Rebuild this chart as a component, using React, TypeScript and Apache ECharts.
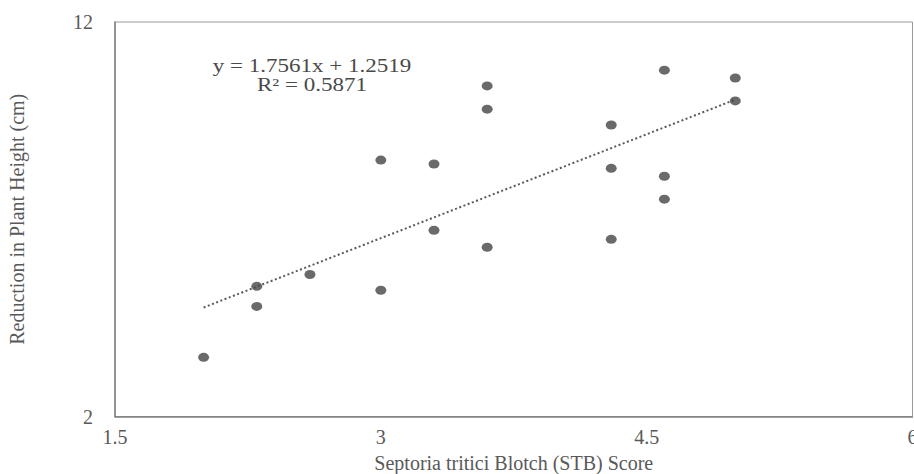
import React, { useEffect, useRef } from "react";
import * as echarts from "echarts";

const stbScore = [2.0, 2.3, 2.3, 2.6, 3.0, 3.0, 3.3, 3.3, 3.6, 3.6, 3.6, 4.3, 4.3, 4.3, 4.6, 4.6, 4.6, 5.0, 5.0];
const heightReduction = [3.5, 4.79, 5.3, 5.6, 5.2, 8.5, 6.72, 8.4, 10.38, 9.79, 6.29, 9.39, 8.29, 6.49, 10.78, 8.09, 7.51, 10.58, 10.0];
const slope = 1.7561;
const intercept = 1.2519;
const rSquared = 0.5871;
const trendRange = [2.0, 5.0];
const yTicks = [2, 12];

const FONT = "Liberation Serif";

export default function App() {
  const ref = useRef<HTMLDivElement>(null);
  useEffect(() => {
    if (!ref.current) return;
    const chart = echarts.init(ref.current, undefined, { renderer: "svg" });
    const points = stbScore.map((x, i) => [x, heightReduction[i]]);
    const trend = trendRange.map((x) => [x, slope * x + intercept]);
    chart.setOption({
      animation: false,
      backgroundColor: "#ffffff",
      grid: {
        left: 115,
        right: 1.5,
        top: 22,
        bottom: 57.5,
        outerBoundsMode: "none",
        containLabel: false,
        show: true,
        borderColor: "#9a9a9a",
        borderWidth: 1,
      },
      xAxis: {
        type: "value",
        min: 1.5,
        max: 6,
        interval: 1.5,
        name: "Septoria tritici Blotch (STB) Score",
        nameLocation: "middle",
        nameGap: 36,
        nameTextStyle: { fontFamily: FONT, fontSize: 20, color: "#595959" },
        axisLine: { show: true, onZero: false, lineStyle: { color: "#7f7f7f", width: 1.5 } },
        axisTick: { show: false },
        splitLine: { show: false },
        axisLabel: { fontFamily: FONT, fontSize: 20, color: "#595959", margin: 10 },
      },
      yAxis: {
        type: "value",
        min: 2,
        max: 12,
        name: "Reduction in Plant Height (cm)",
        nameLocation: "middle",
        nameGap: 88,
        nameTextStyle: { fontFamily: FONT, fontSize: 20, color: "#595959" },
        axisLine: { show: true, onZero: false, lineStyle: { color: "#7f7f7f", width: 1.5 } },
        axisTick: { show: false },
        splitLine: { show: false },
        axisLabel: { fontFamily: FONT, fontSize: 20, color: "#595959", margin: 22, customValues: yTicks },
      },
      graphic: [
        {
          type: "text",
          x: 312,
          y: 56,
          scaleX: 1.28,
          style: {
            text: `y = ${slope}x + ${intercept}\nR² = ${rSquared}`,
            fontFamily: FONT,
            fontSize: 18,
            fill: "#4a4a4a",
            align: "center",
            verticalAlign: "top",
            lineHeight: 19,
          },
        },
      ],
      series: [
        {
          type: "line",
          data: trend,
          symbol: "none",
          lineStyle: { color: "#5a5a5a", width: 2, type: [2, 2.5] },
          z: 2,
        },
        {
          type: "scatter",
          data: points,
          symbol: "path://M0,5a6,5 0 1,0 12,0a6,5 0 1,0 -12,0z",
          symbolSize: [11, 9],
          itemStyle: { color: "#454545" },
          z: 3,
        },
      ],
    });
    return () => chart.dispose();
  }, []);
  return (
    <div style={{ position: "fixed", left: 0, top: 0, width: 914, height: 474 }}>
      <div ref={ref} style={{ width: 914, height: 474 }} />
    </div>
  );
}
